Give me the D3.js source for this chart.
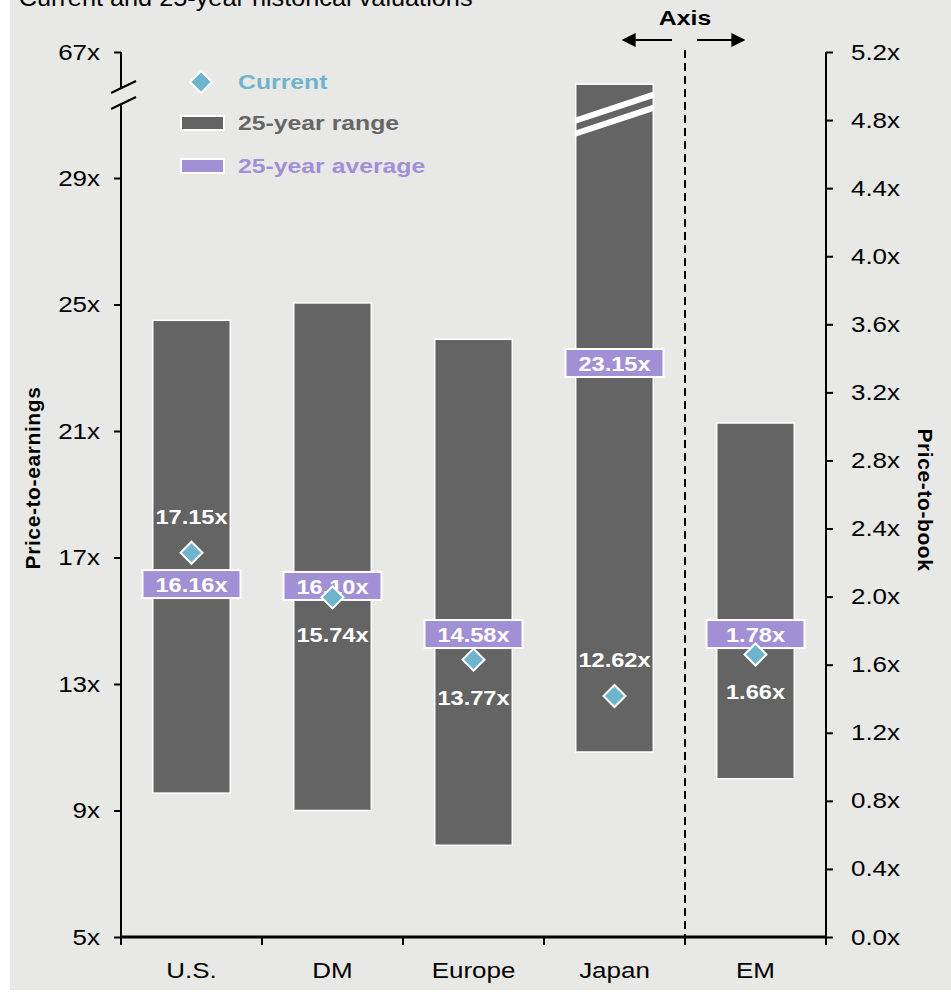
<!DOCTYPE html>
<head>
<meta charset="utf-8">
<style>
  body { margin: 0; background: #ffffff; }
  text { font-family: "Liberation Sans", Arial, sans-serif; }
</style>
</head>

<body>
    <svg id="container" width="951" height="999"></svg>
</body>

<script src="https://d3js.org/d3.v7.min.js"></script>
<script>

    // data
    let categories = ["U.S.", "DM", "Europe", "Japan", "EM"]
    let axisSide   = ["pe", "pe", "pe", "pe", "pb"]
    let rangeHigh  = [24.5, 25.05, 23.9, 57.3, 3.02]
    let rangeLow   = [9.55, 9.0, 7.9, 10.85, 0.93]
    let average    = [16.16, 16.10, 14.58, 23.15, 1.78]
    let current    = [17.15, 15.74, 13.77, 12.62, 1.66]
    let peTicks    = [5, 9, 13, 17, 21, 25, 29, 67]
    let pbTicks    = [0, 0.4, 0.8, 1.2, 1.6, 2.0, 2.4, 2.8, 3.2, 3.6, 4.0, 4.4, 4.8, 5.2]

    let svg = d3.select("#container")
    let sx = 1.18   // picture text is a bit stretched sideways

    let plotLeft = 121, plotRight = 826, plotTop = 52, plotBottom = 937
    let barColor = "#646464", purple = "#a190d6", teal = "#6fb4cd"

    svg.append("rect").attr("x", 10).attr("y", 0).attr("width", 941).attr("height", 990).attr("fill", "#e8e8e6")

    function stext(g, x, y, str, size, weight, anchor, color) {
        return g.append("text")
            .attr("transform", "translate(" + x + "," + y + ") scale(" + sx + ",1)")
            .attr("text-anchor", anchor)
            .attr("dominant-baseline", "central")
            .attr("font-size", size)
            .attr("font-weight", weight)
            .attr("fill", color)
            .text(str)
    }

    // title (cut off at top of the picture)
    svg.append("text").attr("x", 17).attr("y", 6).attr("font-size", 23)
        .attr("transform", "scale(1.1,1)")
        .text("Current and 25-year historical valuations")

    let x = d3.scaleBand().domain(categories).range([plotLeft, plotRight])
    let yPE = d3.scaleLinear().domain([5, 29, 67]).range([plotBottom, 178, plotTop])
    let yPB = d3.scaleLinear().domain([0, 5.2]).range([plotBottom, plotTop])
    let scaleFor = i => axisSide[i] == "pb" ? yPB : yPE

    // left axis with break
    let gl = svg.append("g").attr("transform", "translate(" + plotLeft + ",0)")
        .call(d3.axisLeft(yPE).tickValues(peTicks).tickSize(7).tickFormat(d => d + "x"))
    gl.select(".domain").remove()
    gl.selectAll(".tick line").attr("stroke-width", 2)
    gl.selectAll(".tick text").attr("font-size", 22).attr("fill", "#000")
        .attr("x", -21 / sx).attr("transform", "scale(" + sx + ",1)")
    let brk = yPE(67) + 36
    svg.append("line").attr("x1", plotLeft).attr("x2", plotLeft).attr("y1", yPE(67)).attr("y2", brk).attr("stroke", "#000").attr("stroke-width", 2)
    svg.append("line").attr("x1", plotLeft).attr("x2", plotLeft).attr("y1", brk + 16).attr("y2", plotBottom).attr("stroke", "#000").attr("stroke-width", 2)
    ;[5, 21].forEach(o => {
        svg.append("line").attr("x1", plotLeft - 10).attr("y1", yPE(67) + 36 + o)
            .attr("x2", plotLeft + 15).attr("y2", yPE(67) + 24 + o)
            .attr("stroke", "#000").attr("stroke-width", 2)
    })

    // right axis
    let gr = svg.append("g").attr("transform", "translate(" + plotRight + ",0)")
        .call(d3.axisRight(yPB).tickValues(pbTicks).tickSize(7).tickFormat(d => d.toFixed(1) + "x"))
    gr.select(".domain").attr("stroke-width", 2).attr("d", "M0," + plotTop + "V" + plotBottom)
    gr.selectAll(".tick line").attr("stroke-width", 2)
    gr.selectAll(".tick text").attr("font-size", 22).attr("fill", "#000")
        .attr("x", 25 / sx).attr("transform", "scale(" + sx + ",1)")

    // bottom axis
    svg.append("line").attr("x1", plotLeft).attr("x2", plotRight).attr("y1", plotBottom).attr("y2", plotBottom)
        .attr("stroke", "#000").attr("stroke-width", 3)
    let edges = categories.map(c => x(c)).concat([x(categories[4]) + x.bandwidth()])
    svg.selectAll(".xtick").data(edges).enter().append("line")
        .attr("x1", d => d).attr("x2", d => d).attr("y1", plotBottom).attr("y2", plotBottom + 8)
        .attr("stroke", "#000").attr("stroke-width", 2)
    categories.forEach(c => stext(svg, x(c) + x.bandwidth() / 2, 970, c, 22, "normal", "middle", "#000"))

    // axis divider
    let divX = x("EM")
    svg.append("line").attr("x1", divX).attr("x2", divX).attr("y1", 50).attr("y2", plotBottom)
        .attr("stroke", "#000").attr("stroke-width", 2).attr("stroke-dasharray", "8,5")
    stext(svg, divX, 18, "Axis", 21, "bold", "middle", "#000")
    let defs = svg.append("defs")
    defs.append("marker").attr("id", "arr").attr("viewBox", "0 0 10 10").attr("refX", 9).attr("refY", 5)
        .attr("markerWidth", 7).attr("markerHeight", 7).attr("orient", "auto")
        .append("path").attr("d", "M0,0L10,5L0,10z").attr("fill", "#000")
    svg.append("line").attr("x1", divX - 13).attr("x2", divX - 62).attr("y1", 40).attr("y2", 40)
        .attr("stroke", "#000").attr("stroke-width", 2).attr("marker-end", "url(#arr)")
    svg.append("line").attr("x1", divX + 12).attr("x2", divX + 59).attr("y1", 40).attr("y2", 40)
        .attr("stroke", "#000").attr("stroke-width", 2).attr("marker-end", "url(#arr)")

    // axis titles
    svg.append("text").attr("transform", "translate(40,478) rotate(-90)")
        .attr("text-anchor", "middle").attr("font-size", 21).attr("font-weight", "bold")
        .attr("letter-spacing", 0.6).text("Price-to-earnings")
    svg.append("text").attr("transform", "translate(918,500) rotate(90)")
        .attr("text-anchor", "middle").attr("font-size", 21).attr("font-weight", "bold")
        .attr("letter-spacing", 0.6).text("Price-to-book")

    // bars
    let barW = x.bandwidth() * 0.55
    let cx = i => x(categories[i]) + x.bandwidth() / 2
    let idx = d3.range(categories.length)

    svg.selectAll(".bar").data(idx).enter().append("rect")
        .attr("x", i => cx(i) - barW / 2)
        .attr("y", i => scaleFor(i)(rangeHigh[i]))
        .attr("width", barW)
        .attr("height", i => scaleFor(i)(rangeLow[i]) - scaleFor(i)(rangeHigh[i]))
        .attr("fill", barColor).attr("stroke", "#fff").attr("stroke-width", 1.5)

    // break stripes on Japan bar
    let ji = 3, jt = yPE(rangeHigh[ji])
    defs.append("clipPath").attr("id", "jclip").append("rect")
        .attr("x", cx(ji) - barW / 2 - 1).attr("y", jt).attr("width", barW + 2).attr("height", 100)
    ;[0, 13].forEach(o => {
        svg.append("line").attr("clip-path", "url(#jclip)")
            .attr("x1", cx(ji) - barW / 2 - 2).attr("y1", jt + 37 + o)
            .attr("x2", cx(ji) + barW / 2 + 2).attr("y2", jt + 10 + o)
            .attr("stroke", "#fff").attr("stroke-width", 6)
    })

    // average labels
    let avgG = svg.selectAll(".avg").data(idx).enter().append("g")
    avgG.append("rect")
        .attr("x", i => cx(i) - 49).attr("y", i => scaleFor(i)(average[i]) - 14)
        .attr("width", 98).attr("height", 28)
        .attr("fill", purple).attr("stroke", "#fff").attr("stroke-width", 2)
    idx.forEach(i => stext(svg, cx(i), scaleFor(i)(average[i]) + 1, average[i].toFixed(2) + "x", 20, "bold", "middle", "#fff"))

    // current diamonds and labels
    let diamond = "M0,-11L11,0L0,11L-11,0Z"
    svg.selectAll(".cur").data(idx).enter().append("path")
        .attr("d", diamond)
        .attr("transform", i => "translate(" + cx(i) + "," + scaleFor(i)(current[i]) + ")")
        .attr("fill", teal).attr("stroke", "#fff").attr("stroke-width", 2)
    idx.forEach(i => {
        let s = scaleFor(i)
        let gap = s(current[i]) - s(average[i])
        let above = current[i] > average[i] || gap > 60
        let ly = s(current[i]) + (above ? -36 : 38)
        stext(svg, cx(i), ly, current[i].toFixed(2) + "x", 20, "bold", "middle", "#fff")
    })

    // legend
    svg.append("path").attr("d", diamond).attr("transform", "translate(201,82)")
        .attr("fill", teal).attr("stroke", "#fff").attr("stroke-width", 2)
    svg.append("rect").attr("x", 181).attr("y", 116).attr("width", 43).attr("height", 14)
        .attr("fill", barColor).attr("stroke", "#fff").attr("stroke-width", 2)
    svg.append("rect").attr("x", 181).attr("y", 159).attr("width", 43).attr("height", 14)
        .attr("fill", purple).attr("stroke", "#fff").attr("stroke-width", 2)
    stext(svg, 238, 82, "Current", 21, "bold", "start", teal)
    stext(svg, 238, 123, "25-year range", 21, "bold", "start", "#666")
    stext(svg, 238, 166, "25-year average", 21, "bold", "start", purple)

</script>
